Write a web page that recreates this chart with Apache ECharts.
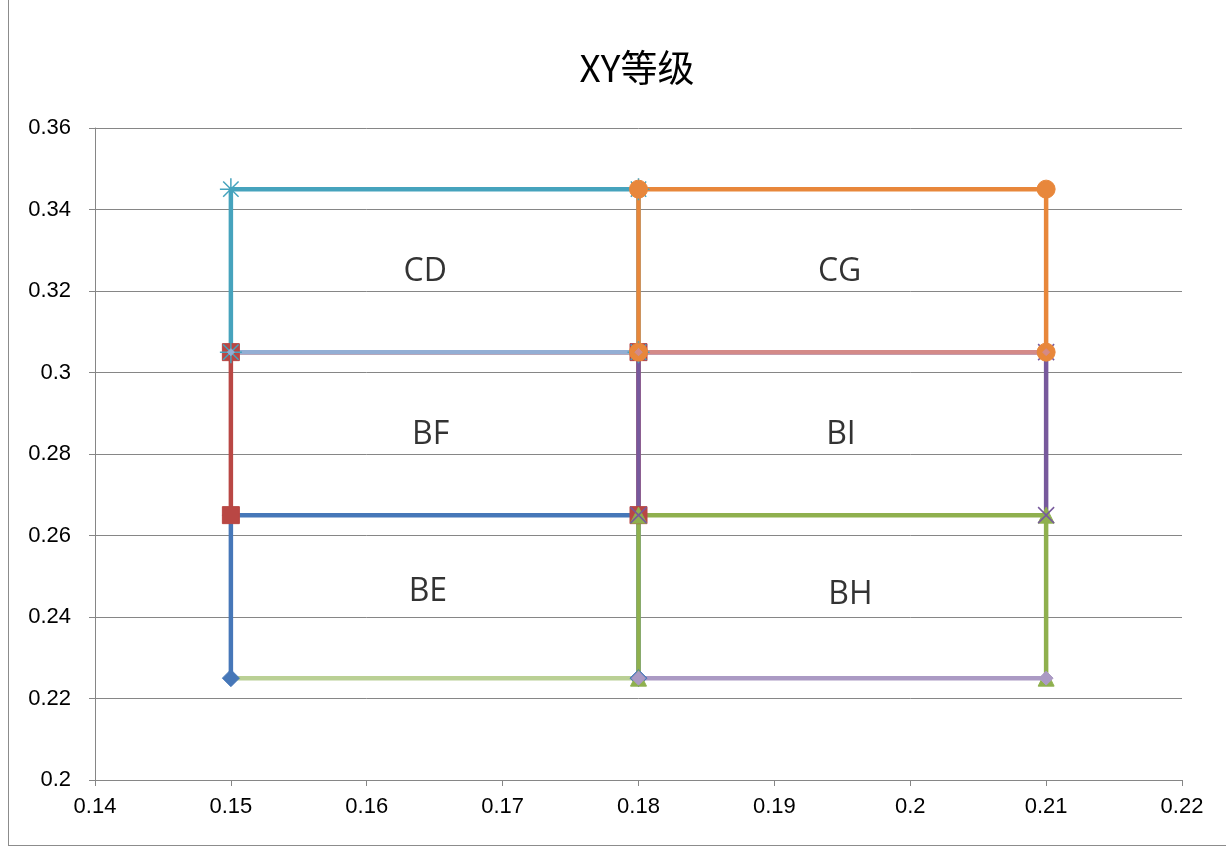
<!DOCTYPE html>
<html>
<head>
<meta charset="utf-8">
<script src="https://cdn.jsdelivr.net/npm/echarts@6/dist/echarts.min.js"></script>
<style>
  html, body { margin: 0; padding: 0; background: #fff; }
  #frame { position: absolute; left: 8px; top: 0; width: 1217px; height: 845px; border-left: 1px solid #8c8c8c; border-bottom: 1px solid #8c8c8c; }
  #chart { position: absolute; left: 0; top: 0; width: 1227px; height: 847px; }
</style>
</head>
<body>
<div id="frame"></div>
<div id="chart"></div>
<script>
// Grade boundaries (x, y pairs) for each rectangle outline
const BE = [[0.15, 0.225], [0.15, 0.265], [0.18, 0.265], [0.18, 0.225]];
const BF = [[0.15, 0.265], [0.15, 0.305], [0.18, 0.305], [0.18, 0.265]];
const BH = [[0.18, 0.225], [0.18, 0.265], [0.21, 0.265], [0.21, 0.225]];
const BI = [[0.18, 0.265], [0.18, 0.305], [0.21, 0.305], [0.21, 0.265]];
const CD = [[0.15, 0.305], [0.15, 0.345], [0.18, 0.345], [0.18, 0.305]];
const CG = [[0.18, 0.305], [0.18, 0.345], [0.21, 0.345], [0.21, 0.305]];
// Shared horizontal edges
const edgeA = [[0.15, 0.305], [0.18, 0.305]];
const edgeB = [[0.18, 0.305], [0.21, 0.305]];
const edgeC = [[0.15, 0.225], [0.18, 0.225]];
const edgeD = [[0.18, 0.225], [0.21, 0.225]];

// Grade names and where they sit
const gradeNames = ['CD', 'CG', 'BF', 'BI', 'BE', 'BH'];
const gradeX = [0.1643, 0.1948, 0.1647, 0.1949, 0.1645, 0.1956];
const gradeY = [0.3247, 0.3247, 0.2847, 0.2847, 0.2461, 0.2454];

const xTicks = [0.14, 0.15, 0.16, 0.17, 0.18, 0.19, 0.2, 0.21, 0.22];
const yTicks = [0.2, 0.22, 0.24, 0.26, 0.28, 0.3, 0.32, 0.34, 0.36];

const starPath = 'path://M0,-10L0,10M-10,0L10,0M-7,-7L7,7M-7,7L7,-7';
const xPath = 'path://M-7,-7L7,7M-7,7L7,-7';

function outline(name, data, color, symbol, size, extra) {
  return Object.assign({
    name: name,
    type: 'line',
    data: data,
    symbol: symbol,
    symbolSize: size,
    showSymbol: symbol !== 'none',
    lineStyle: { color: color, width: 4.5 },
    itemStyle: { color: color, borderColor: color },
    emphasis: { disabled: true },
    animation: false,
    z: 2
  }, extra || {});
}

const series = [
  outline('BE', BE, '#4677b8', 'diamond', 17),
  outline('BF', BF, '#b94744', 'rect', 17),
  outline('BH', BH, '#8fb04e', 'triangle', 16),
  outline('BI', BI, '#77599c', xPath, 16, { itemStyle: { color: 'none', borderColor: '#77599c', borderWidth: 1.5 } }),
  outline('CD', CD, '#46a3bd', starPath, 22, { itemStyle: { color: 'none', borderColor: '#46a3bd', borderWidth: 1.5 } }),
  outline('CG', CG, '#e8873b', 'circle', 18),
  outline('edgeA', edgeA, '#93aed4', 'diamond', 7),
  outline('edgeB', edgeB, '#d48a88', 'diamond', 7),
  outline('edgeC', edgeC, '#bad095', 'none', 0),
  outline('edgeD', edgeD, '#ab9ac4', 'diamond', 14),
  {
    type: 'scatter',
    symbolSize: 0,
    data: gradeNames.map((n, i) => ({ name: n, value: [gradeX[i], gradeY[i]] })),
    label: {
      show: true,
      position: 'inside',
      formatter: p => p.name,
      fontSize: 32,
      fontFamily: 'Open Sans, Noto Sans, sans-serif',
      color: '#000'
    },
    silent: true,
    animation: false,
    z: 5
  }
];

const chart = echarts.init(document.getElementById('chart'), null, { renderer: 'canvas' });
chart.setOption({
  backgroundColor: 'transparent',
  title: {
    text: 'XY等级',
    left: 632,
    textAlign: 'center',
    top: 44,
    textStyle: { fontSize: 37, fontWeight: 'normal', color: '#000', fontFamily: 'Noto Sans CJK SC, sans-serif' }
  },
  grid: { left: 95, right: 45, top: 128, bottom: 67, containLabel: false },
  xAxis: {
    type: 'value',
    min: 0.14, max: 0.22, interval: 0.01,
    axisLine: { show: true, lineStyle: { color: '#868686', width: 1 } },
    axisTick: { show: true, length: 6, lineStyle: { color: '#868686' } },
    splitLine: { show: false },
    axisLabel: {
      color: '#000', fontSize: 22, margin: 16, fontFamily: 'Liberation Sans, Arial, sans-serif',
      formatter: v => { const t = xTicks.find(k => Math.abs(k - v) < 1e-9); return t === undefined ? '' : String(t); }
    }
  },
  yAxis: {
    type: 'value',
    min: 0.2, max: 0.36, interval: 0.02,
    axisLine: { show: true, lineStyle: { color: '#868686', width: 1 } },
    axisTick: { show: true, length: 6, lineStyle: { color: '#868686' } },
    splitLine: { show: true, lineStyle: { color: '#868686', width: 1 } },
    axisLabel: {
      color: '#000', fontSize: 22, margin: 24, fontFamily: 'Liberation Sans, Arial, sans-serif',
      formatter: v => { const t = yTicks.find(k => Math.abs(k - v) < 1e-9); return t === undefined ? '' : String(t); }
    }
  },
  series: series
});
</script>
</body>
</html>
